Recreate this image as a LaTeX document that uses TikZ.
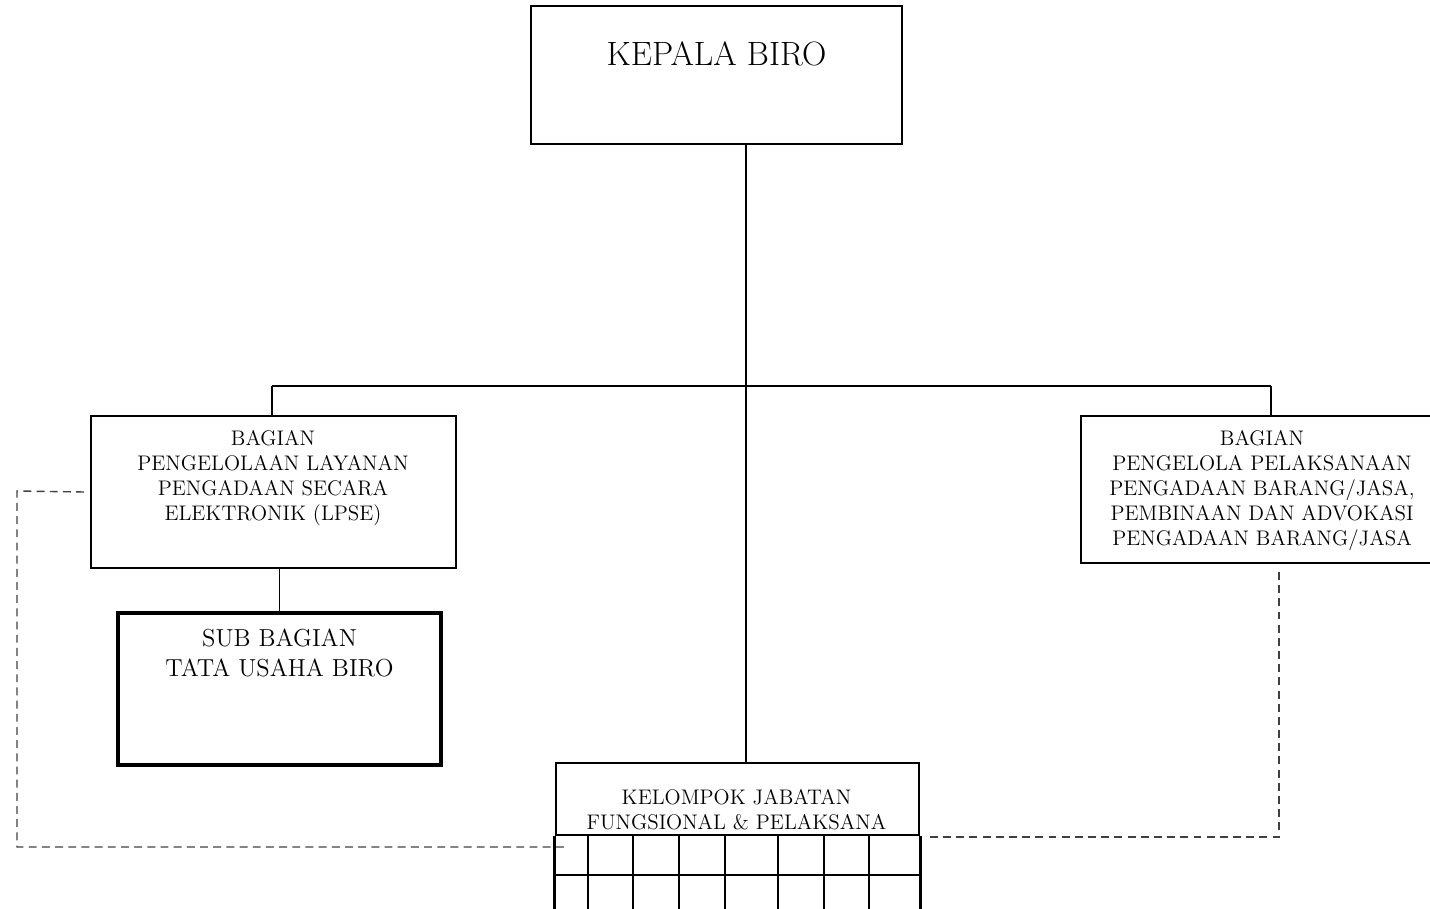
\documentclass[tikz,border=0pt]{standalone}
\usetikzlibrary{calc}

\tikzset{
  orgbox/.style={draw, rectangle, line width=1.1pt, inner sep=0pt},
  orgtext/.style={align=center, inner sep=0pt, font=\fontsize{12}{14.2}\selectfont},
  link/.style={line width=0.9pt},
  dashlink/.style={line width=0.8pt, black!75, dash pattern=on 4.5pt off 3pt},
  gridline/.style={line width=1.5pt},
}

\begin{document}
\begin{tikzpicture}[x=0.02cm, y=-0.02cm]
        \useasboundingbox (0,0) rectangle (1430,909);
        \clip (0,0) rectangle (1430,909);

        % Boxes
        \node[orgbox, minimum width=7.42cm, minimum height=2.76cm] (kepala) at (716.5,75) {};
        \node[orgbox, minimum width=7.3cm, minimum height=3.04cm] (lpse) at (273.5,492) {};
        \node[orgbox, line width=1.8pt, minimum width=6.46cm, minimum height=3.04cm] (subbag) at (279.5,689) {};
        \node[orgbox, minimum width=7.28cm, minimum height=2.94cm] (pbj) at (1263,489.5) {};
        \node[orgbox, line width=1.5pt, minimum width=7.26cm, minimum height=1.44cm] (kelompok) at (737.5,799) {};

        % Texts
        \node[orgtext, font=\fontsize{19.2}{22}\selectfont] (kepalatxt) at (716.5,54) {KEPALA BIRO};
        \node[orgtext] (lpsetxt) at (273,478) {BAGIAN\\PENGELOLAAN LAYANAN\\PENGADAAN SECARA\\ELEKTRONIK (LPSE)};
        \node[orgtext, font=\fontsize{14}{17}\selectfont] (subbagtxt) at (279.5,653) {SUB BAGIAN\\TATA USAHA BIRO};
        \node[orgtext] (pbjtxt) at (1262,491) {BAGIAN\\PENGELOLA PELAKSANAAN\\PENGADAAN BARANG/JASA,\\PEMBINAAN DAN ADVOKASI\\PENGADAAN BARANG/JASA};
        \node[orgtext] (kelompoktxt) at (736.5,810) {KELOMPOK JABATAN\\FUNGSIONAL \& PELAKSANA};

        % Grid under kelompok
        \draw[gridline] (kelompok.south west) -- ++(0,90);
        \draw[gridline] (kelompok.south east) -- ++(0,90);
        \foreach \x in {588,633,679,725,778,824,869} {
            \draw[gridline] (\x,835) -- (\x,920);
        }
        \draw[gridline] (556,875) -- (919,875);

        % Solid lines
        \coordinate (trunk) at (746,386);
        \coordinate (barL) at (272,386);
        \coordinate (barR) at (1271,386);
        \draw[link] (kepala.south -| trunk) -- (trunk |- kelompok.north);
        \draw[link] (barL) -- (barR);
        \draw[link] (barL) -- (barL |- lpse.north);
        \draw[link] (barR) -- (barR |- pbj.north);
        \draw[link] (subbag.north |- lpse.south) -- (subbag.north);

        % Dashed lines
        \coordinate (dashL) at (17,491);
        \coordinate (dashLend) at (565,847);
        \draw[dashlink] ([xshift=-0.12cm]lpse.west) -- (dashL) |- (dashLend);
        \coordinate (dashRtop) at (1279,572);
        \coordinate (dashR) at (1279,837);
        \coordinate (dashRend) at (927,837);
        \draw[dashlink] (dashRtop) -- (dashR) -- (dashRend);
    \end{tikzpicture}
\end{document}
